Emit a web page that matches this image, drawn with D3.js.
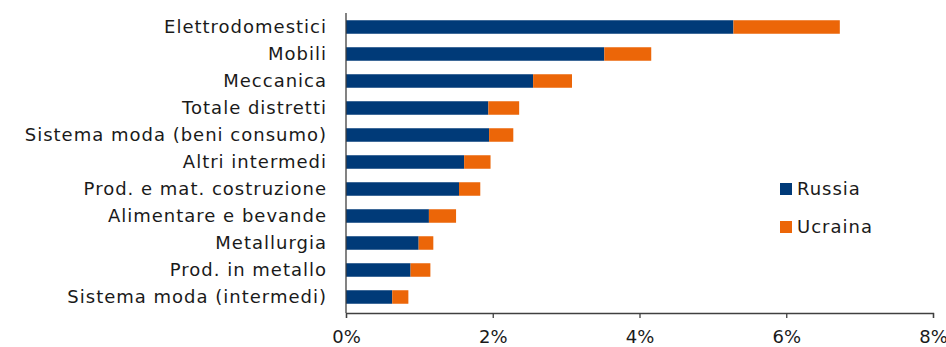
<!DOCTYPE html>
<html><head><meta charset="utf-8">
<script src="https://cdn.jsdelivr.net/npm/d3@7"></script>
<style>
html,body{margin:0;padding:0;background:#fff;}
svg{display:block;}
text{font-family:"DejaVu Sans",sans-serif;fill:#1a1a1a;}
</style></head>
<body><svg id="c" width="946" height="347"></svg>
<script>
const categories = ["Elettrodomestici","Mobili","Meccanica","Totale distretti","Sistema moda (beni consumo)","Altri intermedi","Prod. e mat. costruzione","Alimentare e bevande","Metallurgia","Prod. in metallo","Sistema moda (intermedi)"];
const russia  = [5.28,3.52,2.55,1.94,1.95,1.61,1.54,1.13,0.99,0.88,0.63];
const ucraina = [1.45,0.64,0.53,0.42,0.33,0.36,0.29,0.37,0.20,0.27,0.22];
const seriesNames = ["Russia","Ucraina"];
const colors = ["#003a78","#ec6608"];
const xTicks = [0,2,4,6,8];

const svg = d3.select("#c");
const x = d3.scaleLinear().domain([0,8]).range([346,933]);
const y = d3.scaleBand().domain(categories).range([13.5,310.5]).paddingInner(0.5).paddingOuter(0.25);

const data = categories.map((c,i)=>({cat:c, Russia:russia[i], Ucraina:ucraina[i]}));
const stack = d3.stack().keys(seriesNames)(data);

svg.append("g").selectAll("g").data(stack).join("g")
  .attr("fill",(d,i)=>colors[i])
  .selectAll("rect").data(d=>d).join("rect")
  .attr("x",d=>x(d[0])).attr("width",d=>x(d[1])-x(d[0]))
  .attr("y",d=>y(d.data.cat)).attr("height",y.bandwidth());

// x axis
const xa = svg.append("g").attr("transform","translate(0,313)")
  .call(d3.axisBottom(x).tickValues(xTicks).tickFormat(d=>d+"%").tickSize(5).tickPadding(11));
xa.select(".domain").attr("stroke","#404040").attr("stroke-width",1.3);
xa.selectAll(".tick line").attr("stroke","#404040").attr("stroke-width",1.3);
xa.selectAll(".tick text").attr("font-size","18px").attr("font-family","DejaVu Sans").attr("fill","#1a1a1a").attr("dy","0.8em");

// y axis line
svg.append("line").attr("x1",346).attr("x2",346).attr("y1",13).attr("y2",313)
  .attr("stroke","#404040").attr("stroke-width",1.3);

// category labels
const lab = svg.append("g").selectAll("text").data(categories).join("text")
  .attr("x",327).attr("y",d=>y(d)+y.bandwidth()/2).attr("dy","0.36em")
  .attr("text-anchor","end").attr("font-size","18px").text(d=>d);
const longest = lab.filter(d=>d==="Sistema moda (intermedi)").node();
const w = longest.getComputedTextLength();
const ls = Math.max(-0.5, Math.min(1, (266 - w)/ ("Sistema moda (intermedi)".length)));
lab.attr("letter-spacing", ls.toFixed(2)+"px");

// legend
const lg = svg.append("g").selectAll("g").data(seriesNames).join("g")
  .attr("transform",(d,i)=>`translate(780,${189+i*38})`);
lg.append("rect").attr("x",0).attr("y",-6).attr("width",12).attr("height",12).attr("fill",(d,i)=>colors[i]);
lg.append("text").attr("x",17).attr("dy","0.36em").attr("font-size","18px").attr("letter-spacing","1px").text(d=>d);
</script></body></html>
